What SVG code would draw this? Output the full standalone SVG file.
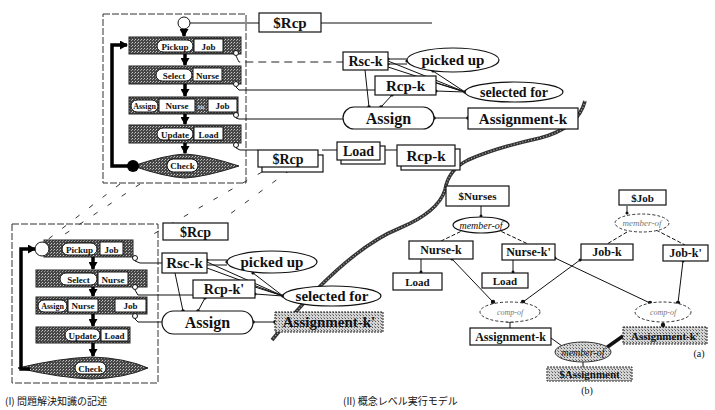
<svg xmlns="http://www.w3.org/2000/svg" width="715" height="410" viewBox="0 0 715 410">
<defs>
<pattern id="dark" width="3" height="3" patternUnits="userSpaceOnUse"><rect width="3" height="3" fill="#474747"/><rect width="1" height="1" fill="#c8c8c8"/><rect x="2" y="1" width="1" height="1" fill="#a0a0a0"/></pattern>
<pattern id="light" width="3" height="3" patternUnits="userSpaceOnUse"><rect width="3" height="3" fill="#d4d4d4"/><rect width="1" height="1" fill="#555"/><rect x="2" y="2" width="1" height="1" fill="#888"/></pattern>
<marker id="ah" markerUnits="userSpaceOnUse" markerWidth="9" markerHeight="9" refX="7" refY="4.5" orient="auto"><path d="M0,0 L8,4.5 L0,9 z" fill="#000"/></marker>
</defs>
<style>
text{font-family:"Liberation Serif","DejaVu Serif",serif;font-weight:bold;text-anchor:middle;fill:#111}
.box{fill:#fff;stroke:#111;stroke-width:1.2}
.bar{fill:url(#dark);stroke:#222;stroke-width:1}
.pill{fill:#fff;stroke:#111;stroke-width:1}
.frame{fill:none;stroke:#333;stroke-width:1;stroke-dasharray:7,2}
.ln{fill:none;stroke:#111;stroke-width:1}
.dash{fill:none;stroke:#222;stroke-width:1;stroke-dasharray:8,5}
.persp{fill:none;stroke:#333;stroke-width:1;stroke-dasharray:5,12}
.flow{fill:none;stroke:#000;stroke-width:3.5}
.ell{fill:#fff;stroke:#111;stroke-width:1.2}
.dell{fill:#fff;stroke:#333;stroke-width:1;stroke-dasharray:3,2}
.it{font-style:italic;font-weight:normal}
.sm{font-size:9px}
.dot{fill:#111}
.cap{font-family:"Noto Sans CJK JP",sans-serif;font-weight:normal;font-size:10px;text-anchor:start}
</style>

<!-- perspective lines -->
<g id="perspective">
<path class="persp" d="M120,184 L42,244"/>
<path class="persp" d="M140,184 L62,236"/>
<path class="persp" d="M262,172 L150,236"/>
<path class="persp" d="M290,170 L230,214"/>
</g>

<!-- (I) top flowchart -->
<g id="flow-top">
<rect class="frame" x="103" y="14" width="143" height="169"/>
<circle cx="184" cy="23" r="6" fill="#fff" stroke="#111"/>
<rect class="bar" x="129" y="37" width="112" height="17"/>
<rect class="pill" x="157" y="40" width="36" height="12" rx="6"/><text x="175" y="50" class="sm">Pickup</text>
<rect class="pill" x="194" y="39" width="29" height="13"/><text x="208.5" y="50" class="sm">Job</text>
<rect class="bar" x="129" y="66" width="112" height="18"/>
<rect class="pill" x="156" y="69" width="36" height="12" rx="6"/><text x="174" y="79" class="sm">Select</text>
<rect class="pill" x="193" y="68" width="29" height="13"/><text x="207.5" y="79" class="sm">Nurse</text>
<rect class="bar" x="129" y="97" width="109" height="17"/>
<rect class="pill" x="131" y="100" width="27" height="12" rx="6"/><text x="144.5" y="109" font-size="8">Assign</text>
<rect class="pill" x="159" y="99" width="36" height="13"/><text x="177" y="109" class="sm">Nurse</text>
<text x="201" y="109" font-size="7" style="fill:#ddd">to</text>
<rect class="pill" x="208" y="99" width="29" height="13"/><text x="222.5" y="109" class="sm">Job</text>
<rect class="bar" x="129" y="125" width="112" height="18"/>
<rect class="pill" x="157" y="128" width="36" height="12" rx="6"/><text x="175" y="138" class="sm">Update</text>
<rect class="pill" x="194" y="127" width="29" height="13"/><text x="208.5" y="138" class="sm">Load</text>
<path d="M133,166 Q165,155 185,154 Q205,155 239,166 Q205,177 185,178 Q165,177 133,166 Z" fill="url(#dark)" stroke="#222"/>
<rect class="pill" x="167" y="159" width="31" height="13" rx="6.5"/><text x="182.5" y="169" class="sm">Check</text>
<circle cx="133" cy="166" r="6" fill="#000"/>
<g class="flow">
<path d="M184,29 V36" marker-end="url(#ah)"/>
<path d="M185,54 V65" marker-end="url(#ah)"/>
<path d="M185,84 V96" marker-end="url(#ah)"/>
<path d="M185,114 V124" marker-end="url(#ah)"/>
<path d="M185,143 V153" marker-end="url(#ah)"/>
<path d="M133,166 H112 V45 H127" marker-end="url(#ah)"/>
</g>
<g fill="#fff" stroke="#111">
<circle cx="236" cy="53" r="2.5"/><circle cx="236" cy="84" r="2.5"/><circle cx="236" cy="115" r="2.5"/><circle cx="236" cy="145" r="2.5"/>
</g>
</g>

<!-- (I) bottom flowchart -->
<g id="flow-bottom">
<rect class="frame" x="12" y="224" width="146" height="159"/>
<rect class="bar" x="44" y="240" width="89" height="17"/>
<rect class="pill" x="62" y="243" width="35" height="12" rx="6"/><text x="79.5" y="253" class="sm">Pickup</text>
<rect class="pill" x="100" y="242" width="23" height="13"/><text x="111.5" y="253" class="sm">Job</text>
<circle cx="42" cy="249" r="7" fill="#fff" stroke="#111"/>
<rect class="bar" x="36" y="270" width="111" height="17"/>
<rect class="pill" x="60" y="273" width="37" height="12" rx="6"/><text x="78.5" y="283" class="sm">Select</text>
<rect class="pill" x="98" y="272" width="30" height="13"/><text x="113" y="283" class="sm">Nurse</text>
<rect class="bar" x="36" y="297" width="111" height="17"/>
<rect class="pill" x="38" y="300" width="29" height="12" rx="6"/><text x="52.5" y="309" font-size="8">Assign</text>
<rect class="pill" x="68" y="299" width="30" height="13"/><text x="83" y="309" class="sm">Nurse</text>
<rect class="pill" x="115" y="299" width="31" height="13"/><text x="130.5" y="309" class="sm">Job</text>
<rect class="bar" x="36" y="327" width="94" height="16"/>
<rect class="pill" x="65" y="329" width="35" height="12" rx="6"/><text x="82.5" y="339" class="sm">Update</text>
<rect class="pill" x="101" y="329" width="27" height="12"/><text x="114.5" y="339" class="sm">Load</text>
<path d="M18,368 Q60,358 92,357 Q125,358 148,368 Q125,378 92,379 Q60,378 18,368 Z" fill="url(#dark)" stroke="#222"/>
<rect class="pill" x="75" y="362" width="31" height="12" rx="6"/><text x="90.5" y="372" class="sm">Check</text>
<g class="flow">
<path d="M93,257 V269" marker-end="url(#ah)"/>
<path d="M93,287 V296" marker-end="url(#ah)"/>
<path d="M93,314 V326" marker-end="url(#ah)"/>
<path d="M93,343 V356" marker-end="url(#ah)"/>
<path d="M30,369 H21 V249 H35" marker-end="url(#ah)"/>
</g>
<g fill="#fff" stroke="#111">
<circle cx="135" cy="258" r="2.5"/><circle cx="135" cy="287" r="2.5"/><circle cx="135" cy="316" r="2.5"/>
</g>
</g>

<!-- connectors -->
<g id="connectors">
<path class="ln" d="M190,23 H259"/>
<path class="ln" d="M321,23 H432"/>
<path class="dash" d="M236,56 L239,62 H343"/>
<path class="ln" d="M236,87 L239,90 H375"/>
<path class="ln" d="M236,118 L239,119 H343"/>
<path class="ln" d="M236,148 L240,150 H258"/>
<path class="ln" d="M322,150 H337"/>
<path class="ln" d="M385,150 H397"/>
<path class="ln" d="M388,59 H407 M388,64 H407"/>
<path class="ln" d="M388,61 L465,92 M388,67 L465,92"/>
<path class="ln" d="M436,83 L465,92 M436,91 L465,92"/>
<path class="ln" d="M433,71 L465,92"/>
<path class="ln" d="M365,70 L369,107"/>
<path class="ln" d="M392,95 L381,107"/>
<path class="ln" d="M434,118 H468"/>
<g class="dot">
<circle cx="388" cy="59" r="1.6"/><circle cx="388" cy="64" r="1.6"/><circle cx="407" cy="61" r="1.6"/><circle cx="465" cy="92" r="1.8"/>
<circle cx="436" cy="91" r="1.6"/><circle cx="433" cy="71" r="1.6"/><circle cx="369" cy="107" r="1.8"/><circle cx="381" cy="107" r="1.8"/><circle cx="392" cy="95" r="1.6"/>
<circle cx="434" cy="118" r="1.8"/><circle cx="468" cy="118" r="1.8"/>
</g>
<path class="ln" d="M135,261 L140,263 H162"/>
<path class="ln" d="M135,290 L138,295 H193"/>
<path class="ln" d="M135,319 L138,322 H162"/>
<path class="ln" d="M207,260 H227 M207,265 H227"/>
<path class="ln" d="M207,262 L283,296 M207,268 L283,296"/>
<path class="ln" d="M255,287 L283,296 M255,294 L283,296"/>
<path class="ln" d="M253,273 L283,296"/>
<path class="ln" d="M175,273 L183,311"/>
<path class="ln" d="M205,298 L198,311"/>
<path class="ln" d="M253,322 H275"/>
<g class="dot">
<circle cx="207" cy="260" r="1.6"/><circle cx="227" cy="262" r="1.6"/><circle cx="283" cy="296" r="1.8"/><circle cx="255" cy="294" r="1.6"/>
<circle cx="253" cy="273" r="1.6"/><circle cx="183" cy="311" r="1.8"/><circle cx="198" cy="311" r="1.8"/><circle cx="205" cy="298" r="1.6"/>
<circle cx="253" cy="322" r="1.8"/><circle cx="275" cy="322" r="1.8"/>
</g>
<path class="ln" d="M481,206 V217"/>
<path class="ln" stroke-dasharray="4,2" d="M466,229 L441,241 M496,229 L528,244"/>
<path class="ln" d="M627,206 V214"/>
<path class="ln" stroke-dasharray="4,2" d="M627,232 L607,244 M656,230 L685,245"/>
<path class="ln" d="M452,259 L493,302"/>
<path class="ln" d="M580,260 L523,302"/>
<path class="ln" d="M555,258 L650,303"/>
<path class="ln" d="M683,261 L678,303"/>
<path class="ln" d="M421,259 V273 M513,260 V273"/>
<path class="ln" d="M510,322 V328 M506,322 H514"/>
<path class="ln" d="M663,322 V327"/>
<path class="ln" d="M551,338 L562,346"/>
<path d="M623,336 L606,348" stroke="#111" stroke-width="3.5"/>
<path class="ln" d="M583,362 V367"/>
<g class="dot">
<circle cx="493" cy="302" r="2.2"/><circle cx="523" cy="302" r="2.2"/><circle cx="650" cy="303" r="2.2"/><circle cx="678" cy="303" r="2.2"/>
<circle cx="452" cy="259" r="1.5"/><circle cx="580" cy="260" r="1.5"/><circle cx="555" cy="258" r="1.5"/><circle cx="683" cy="261" r="1.5"/>
<circle cx="421" cy="272" r="1.5"/><circle cx="513" cy="272" r="1.5"/><circle cx="663" cy="325" r="2.2"/><circle cx="481" cy="216" r="1.5"/><circle cx="627" cy="213" r="1.5"/>
</g>
</g>

<!-- boundary curve -->
<g id="boundary">
<path d="M585,101 Q578,128 540,138 Q495,148 468,160 Q448,170 445,190 Q438,212 400,228 Q345,250 272,340" fill="none" stroke="#333" stroke-width="3.6"/>
<path d="M585,101 Q578,128 540,138 Q495,148 468,160 Q448,170 445,190 Q438,212 400,228 Q345,250 272,340" fill="none" stroke="#bbb" stroke-width="1.2" stroke-dasharray="1,2"/>
</g>

<!-- top net nodes -->
<g id="rcp-top"><rect class="box" x="259" y="13" width="62" height="19"/><text x="290" y="28" font-size="15">$Rcp</text></g>
<g id="rsck-top"><rect class="box" x="343" y="52" width="45" height="18"/><text x="365.5" y="66" font-size="14">Rsc-k</text></g>
<g id="pickedup-top"><ellipse class="ell" cx="453" cy="60" rx="46" ry="12"/><text x="453" y="65" font-size="15">picked up</text></g>
<g id="rcpk-top"><rect class="box" x="375" y="76" width="61" height="19"/><text x="405.5" y="91" font-size="15">Rcp-k</text></g>
<g id="selected-top"><ellipse class="ell" cx="514" cy="92" rx="49" ry="10"/><text x="514" y="97" font-size="14">selected for</text></g>
<g id="assign-top"><rect class="box" x="343" y="107" width="91" height="22" rx="11"/><text x="388.5" y="124" font-size="16">Assign</text></g>
<g id="assignmentk-top"><rect class="box" x="468" y="108" width="110" height="21"/><text x="523" y="124" font-size="15">Assignment-k</text></g>
<g id="rcp-stack"><rect class="box" x="262" y="155" width="61" height="17"/><rect class="box" x="258" y="150" width="60" height="17"/><text x="288" y="164" font-size="14">$Rcp</text></g>
<g id="load-stack"><rect class="box" x="341" y="146" width="44" height="18"/><rect class="box" x="337" y="142" width="43" height="18"/><text x="358.5" y="156" font-size="14">Load</text></g>
<g id="rcpk-stack"><rect class="box" x="401" y="149" width="59" height="21"/><rect class="box" x="397" y="145" width="58" height="21"/><text x="426" y="161" font-size="15">Rcp-k</text></g>

<!-- bottom-left net nodes -->
<g id="rcp-bot"><rect class="box" x="163" y="223" width="65" height="17"/><text x="195.5" y="237" font-size="14">$Rcp</text></g>
<g id="rsck-bot"><rect class="box" x="162" y="253" width="45" height="20"/><text x="184.5" y="268" font-size="15">Rsc-k</text></g>
<g id="pickedup-bot"><ellipse class="ell" cx="272" cy="262" rx="45" ry="11"/><text x="272" y="267" font-size="15">picked up</text></g>
<g id="rcpk-bot"><rect class="box" x="193" y="280" width="62" height="18"/><text x="224" y="294" font-size="14">Rcp-k'</text></g>
<g id="selected-bot"><ellipse class="ell" cx="332" cy="296" rx="49" ry="10"/><text x="332" y="301" font-size="15">selected for</text></g>
<g id="assign-bot"><rect class="box" x="162" y="311" width="91" height="23" rx="11.5"/><text x="207.5" y="328" font-size="16">Assign</text></g>
<g id="assignmentk-bot"><rect x="275" y="312" width="108" height="20" fill="url(#light)" stroke="#222" stroke-dasharray="2,1"/><text x="329" y="327" font-size="15">Assignment-k'</text></g>

<!-- right network nodes -->
<g id="nurses"><rect class="box" x="446" y="186" width="63" height="20"/><text x="477.5" y="200" font-size="11">$Nurses</text></g>
<g id="memberof-n"><ellipse class="ell" cx="481" cy="225" rx="28" ry="8"/><text x="481" y="229" font-size="10" class="it">member-of</text></g>
<g id="nursek"><rect class="box" x="409" y="241" width="64" height="18"/><text x="441" y="254" font-size="12">Nurse-k</text></g>
<g id="nursek2"><rect class="box" x="502" y="244" width="53" height="16"/><text x="528.5" y="256" font-size="12">Nurse-k'</text></g>
<g id="load1"><rect class="box" x="393" y="273" width="49" height="17"/><text x="417.5" y="286" font-size="11">Load</text></g>
<g id="load2"><rect class="box" x="482" y="273" width="46" height="15"/><text x="505" y="285" font-size="11">Load</text></g>
<g id="compof-1"><ellipse class="dell" cx="510" cy="312" rx="30" ry="10"/><text x="510" y="315" font-size="8" class="it" style="fill:#777">comp-of</text></g>
<g id="assignmentk-r"><rect class="box" x="470" y="328" width="81" height="17"/><text x="510.5" y="341" font-size="12">Assignment-k</text></g>
<g id="job"><rect class="box" x="619" y="190" width="47" height="15"/><text x="642.5" y="202" font-size="11">$Job</text></g>
<g id="memberof-j"><ellipse class="dell" cx="642" cy="223" rx="27" ry="9"/><text x="642" y="226" font-size="9" class="it" style="fill:#777">member-of</text></g>
<g id="jobk"><rect class="box" x="581" y="244" width="52" height="16"/><text x="607" y="256" font-size="12">Job-k</text></g>
<g id="jobk2"><rect class="box" x="663" y="245" width="45" height="16"/><text x="685.5" y="257" font-size="12">Job-k'</text></g>
<g id="compof-2"><ellipse class="dell" cx="663" cy="312" rx="28" ry="10"/><text x="663" y="315" font-size="8" class="it" style="fill:#777">comp-of</text></g>
<g id="assignmentk2-r"><rect x="623" y="327" width="84" height="17" fill="url(#light)" stroke="#222" stroke-dasharray="2,1"/><text x="665" y="340" font-size="11">Assignment-k'</text></g>
<g id="memberof-a"><ellipse cx="583" cy="352" rx="28" ry="10" fill="url(#light)" stroke="#333"/><text x="583" y="356" font-size="10" class="it">member-of</text></g>
<g id="assignment"><rect x="547" y="367" width="85" height="14" fill="url(#light)" stroke="#222" stroke-dasharray="2,1"/><text x="589.5" y="378" font-size="11">$Assignment</text></g>
<text x="699" y="357" font-size="10" style="font-weight:normal">(a)</text>
<text x="587" y="394" font-size="10" style="font-weight:normal">(b)</text>

<!-- captions -->
<text class="cap" x="5" y="405">(I) 問題解決知識の記述</text>
<text class="cap" x="343" y="405">(II) 概念レベル実行モデル</text>
</svg>
